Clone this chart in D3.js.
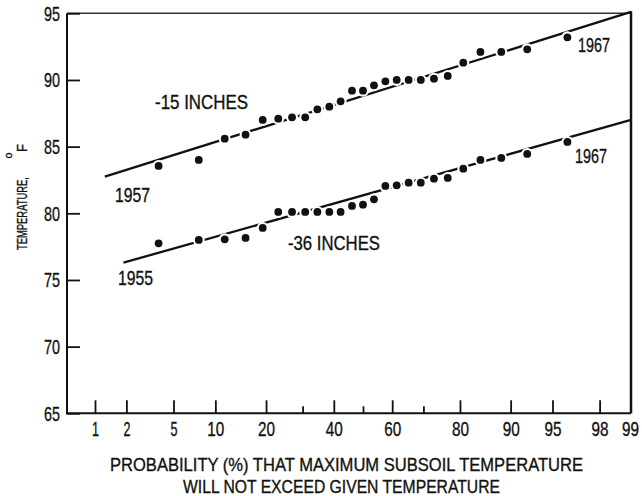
<!DOCTYPE html>
<html>
<head>
<meta charset="utf-8">
<script src="https://cdn.jsdelivr.net/npm/d3@7"></script>
<style>
  html, body { margin: 0; padding: 0; background: #fff; }
  svg text { font-family: 'Liberation Sans Narrow', 'Arial Narrow', 'Liberation Sans', sans-serif;
             fill: #111; stroke: #111; stroke-width: 0.35px; }
</style>
</head>
<body>
<svg id="chart" width="642" height="496"></svg>
<script>
// Plotting positions (% non-exceedance) shared by both depths
const probs = [3.8, 7.7, 11.5, 15.4, 19.2, 23.1, 26.9, 30.8, 34.6, 38.5, 42.3, 46.2, 50.0,
               53.8, 57.7, 61.5, 65.4, 69.2, 73.1, 76.9, 80.8, 84.6, 88.5, 92.3, 96.2];
// Ranked maximum subsoil temperatures, deg F
const temp15 = [83.55, 84.0, 85.6, 85.9, 87.0, 87.1, 87.2, 87.2, 87.8, 88.0, 88.4, 89.2, 89.2,
                89.6, 89.9, 90.0, 90.0, 90.0, 90.1, 90.3, 91.3, 92.1, 92.1, 92.3, 93.2];
const temp36 = [77.75, 78.0, 78.05, 78.15, 78.9, 80.1, 80.1, 80.1, 80.1, 80.1, 80.1, 80.55, 80.65,
                81.05, 82.05, 82.1, 82.3, 82.3, 82.6, 82.65, 83.35, 84.0, 84.15, 84.45, 85.35];
// Fitted lines: end points (probability %, temperature)
const fitProb15 = [1.25, 99];
const fitTemp15 = [82.75, 95.1];
const fitProb36 = [1.88, 99];
const fitTemp36 = [76.3, 87.0];
// Axis ticks
const xMajorTicks = [1, 2, 5, 10, 20, 40, 60, 80, 90, 95, 98];
const xMinorTicks = [30, 50, 70];
const xLabelTicks = [1, 2, 5, 10, 20, 40, 60, 80, 90, 95, 98, 99];
const yTicks = [65, 70, 75, 80, 85, 90, 95];

// Inverse standard normal CDF (Acklam's rational approximation)
function probit(p) {
  const a = [-3.969683028665376e+01, 2.209460984245205e+02, -2.759285104469687e+02,
             1.383577518672690e+02, -3.066479806614716e+01, 2.506628277459239e+00];
  const b = [-5.447609879822406e+01, 1.615858368580409e+02, -1.556989798598866e+02,
             6.680131188771972e+01, -1.328068155288572e+01];
  const c = [-7.784894002430293e-03, -3.223964580411365e-01, -2.400758277161838e+00,
             -2.549732539343734e+00, 4.374664141464968e+00, 2.938163982698783e+00];
  const d = [7.784695709041462e-03, 3.224671290700398e-01, 2.445134137142996e+00,
             3.754408661907416e+00];
  const pl = 0.02425, ph = 1 - pl;
  let q, r;
  if (p < pl) {
    q = Math.sqrt(-2 * Math.log(p));
    return (((((c[0]*q+c[1])*q+c[2])*q+c[3])*q+c[4])*q+c[5]) / ((((d[0]*q+d[1])*q+d[2])*q+d[3])*q+1);
  }
  if (p <= ph) {
    q = p - 0.5; r = q * q;
    return (((((a[0]*r+a[1])*r+a[2])*r+a[3])*r+a[4])*r+a[5])*q / (((((b[0]*r+b[1])*r+b[2])*r+b[3])*r+b[4])*r+1);
  }
  q = Math.sqrt(-2 * Math.log(1 - p));
  return -(((((c[0]*q+c[1])*q+c[2])*q+c[3])*q+c[4])*q+c[5]) / ((((d[0]*q+d[1])*q+d[2])*q+d[3])*q+1);
}

const frame = { left: 67, right: 631, top: 13.3, bottom: 413.3 };

// Normal-probability x scale: linear in z, addressed by percent
const zScale = d3.scaleLinear().domain([probit(0.01), probit(0.99)]).range([95, 631]);
const x = pct => zScale(probit(pct / 100));
const y = d3.scaleLinear().domain([65, 95]).range([frame.bottom, frame.top]);

const svg = d3.select('#chart');
const FS = 'Liberation Sans Narrow';

function label(sel, txt, px, py, size, len, anchor) {
  return sel.append('text')
    .attr('x', px).attr('y', py)
    .attr('font-size', size)
    .attr('text-anchor', anchor || 'start')
    .attr('textLength', len)
    .attr('lengthAdjust', 'spacingAndGlyphs')
    .text(txt);
}

// Vertical text: measured, then squeezed/stretched along its run to a set length
function vlabel(txt, px, py, size, len) {
  const t = svg.append('text').attr('font-size', size).text(txt);
  const w = t.node().getComputedTextLength();
  const k = len / w;
  t.attr('transform', `translate(${px},${py}) rotate(-90) scale(${k},1)`);
  return t;
}

// Frame
const ink = '#111';
svg.append('line').attr('x1', frame.left).attr('x2', frame.right).attr('y1', frame.top).attr('y2', frame.top)
  .attr('stroke', '#333').attr('stroke-width', 1.5);
svg.append('line').attr('x1', frame.right).attr('x2', frame.right).attr('y1', frame.top - 2).attr('y2', frame.bottom)
  .attr('stroke', ink).attr('stroke-width', 2.5);
svg.append('line').attr('x1', frame.left).attr('x2', frame.left).attr('y1', frame.top).attr('y2', frame.bottom + 1)
  .attr('stroke', ink).attr('stroke-width', 2);
svg.append('line').attr('x1', frame.left - 1).attr('x2', frame.right).attr('y1', frame.bottom).attr('y2', frame.bottom)
  .attr('stroke', ink).attr('stroke-width', 2);

// Bottom axis: long inward ticks, short ticks at 30/50/70
const xMajor = svg.append('g').attr('transform', `translate(0,${frame.bottom})`)
  .call(d3.axisBottom(zScale).tickValues(xMajorTicks.map(p => probit(p / 100)))
    .tickSizeInner(-13).tickSizeOuter(0).tickFormat(''));
const xMinor = svg.append('g').attr('transform', `translate(0,${frame.bottom})`)
  .call(d3.axisBottom(zScale).tickValues(xMinorTicks.map(p => probit(p / 100)))
    .tickSizeInner(-7).tickSizeOuter(0).tickFormat(''));
const xLabels = svg.append('g').attr('transform', `translate(0,${frame.bottom})`)
  .call(d3.axisBottom(zScale).tickValues(xLabelTicks.map(p => probit(p / 100)))
    .tickSize(0).tickPadding(8).tickFormat((d, i) => String(xLabelTicks[i])));
[xMajor, xMinor, xLabels].forEach(g => {
  g.select('.domain').remove();
  g.selectAll('.tick line').attr('stroke', ink).attr('stroke-width', 1.8);
});
xLabels.selectAll('.tick text')
  .attr('font-size', 21).attr('font-family', FS).attr('fill', ink)
  .attr('textLength', (d, i) => String(xLabelTicks[i]).length === 1 ? 7 : 17)
  .attr('lengthAdjust', 'spacingAndGlyphs');
// keep the last label clear of the right frame edge
xLabels.selectAll('.tick').filter((d, i) => xLabelTicks[i] === 99)
  .select('text').attr('x', -1);

// Left axis
const yAxis = svg.append('g').attr('transform', `translate(${frame.left},0)`)
  .call(d3.axisLeft(y).tickValues(yTicks).tickSizeInner(-13).tickSizeOuter(0).tickPadding(7));
yAxis.select('.domain').remove();
yAxis.selectAll('.tick line').attr('stroke', ink).attr('stroke-width', 1.8);
yAxis.selectAll('.tick text')
  .attr('font-size', 21).attr('font-family', FS).attr('fill', ink)
  .attr('textLength', 16).attr('lengthAdjust', 'spacingAndGlyphs');

// Axis titles
label(svg, 'PROBABILITY (%) THAT MAXIMUM SUBSOIL TEMPERATURE', 346.5, 471, 19, 473, 'middle');
label(svg, 'WILL NOT EXCEED GIVEN TEMPERATURE', 341.5, 493, 19, 317, 'middle');

vlabel('TEMPERATURE,', 27, 250, 15, 73);
vlabel('o', 12, 158.5, 11, 6);
vlabel('F', 27, 152, 15, 8);

// Fitted lines, data points with white halos that break the line under each dot
const series = [
  { temps: temp15, fitP: fitProb15, fitT: fitTemp15 },
  { temps: temp36, fitP: fitProb36, fitT: fitTemp36 }
];
const lineGen = d3.line().x(d => x(d[0])).y(d => y(d[1]));
series.forEach(s => {
  svg.append('path')
    .datum(s.fitP.map((p, i) => [p, s.fitT[i]]))
    .attr('d', lineGen)
    .attr('fill', 'none').attr('stroke', ink).attr('stroke-width', 2.3);
});
series.forEach(s => {
  svg.append('g').selectAll('circle').data(s.temps).join('circle')
    .attr('cx', (d, i) => x(probs[i])).attr('cy', d => y(d))
    .attr('r', 6).attr('fill', '#fff');
});
series.forEach(s => {
  svg.append('g').selectAll('circle').data(s.temps).join('circle')
    .attr('cx', (d, i) => x(probs[i])).attr('cy', d => y(d))
    .attr('r', 3.9).attr('fill', ink);
});

// Annotations
label(svg, '-15 INCHES', 155, 109, 20, 93);
label(svg, '-36 INCHES', 288, 250, 20, 92);
label(svg, '1957', 115, 202, 20, 35);
label(svg, '1955', 118, 285, 20, 35);
label(svg, '1967', 578, 52, 20, 32);
label(svg, '1967', 575, 163, 20, 32);
</script>
</body>
</html>
